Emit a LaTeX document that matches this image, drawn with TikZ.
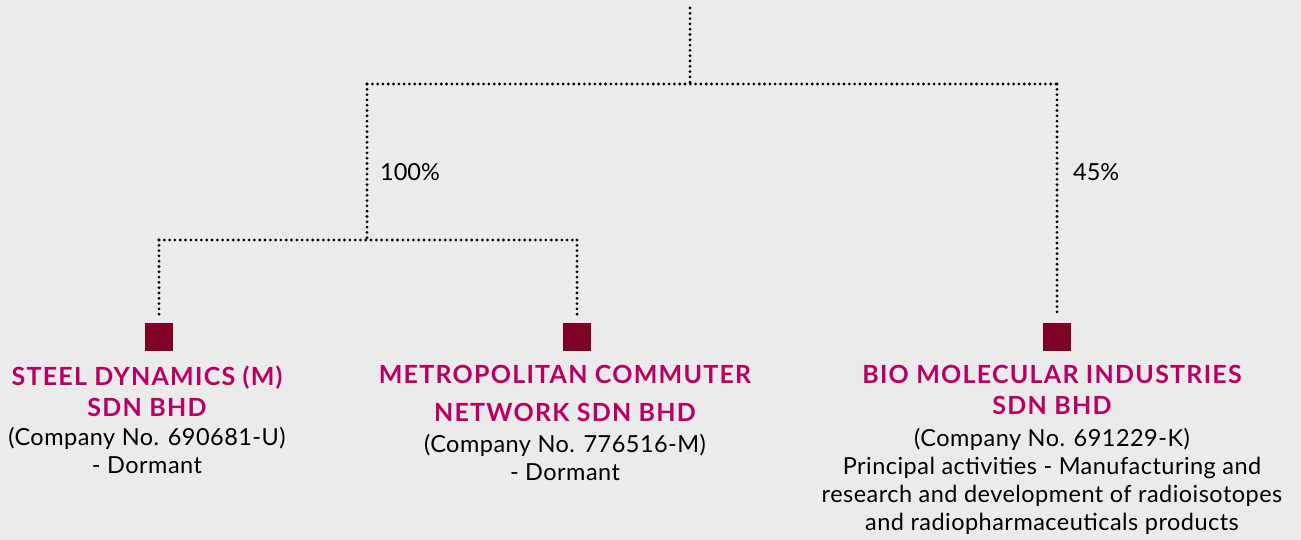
\documentclass[tikz,border=0pt]{standalone}
\usepackage{fontspec}
\setmainfont{Lato}
\newfontfamily\namefont{Lato}[LetterSpace=5]
\newfontfamily\infofont{Lato}[LetterSpace=2]
\usetikzlibrary{positioning}
\definecolor{pagegray}{HTML}{EBEBEB}
\definecolor{unitred}{HTML}{7F0023}
\definecolor{namepink}{HTML}{B80062}

\begin{document}
\begin{tikzpicture}[x=1pt, y=-1pt,
    holding/.style={line width=3.1pt, line cap=round, dash pattern=on 0pt off 5.3pt},
    unitbox/.style={rectangle, fill=unitred, minimum size=28pt, inner sep=0pt},
    coname/.style={font=\namefont\fontsize{25}{31}\selectfont\bfseries, text=namepink, align=center, inner sep=0pt},
    cotext/.style={font=\infofont\fontsize{23.5}{28}\selectfont, align=center, inner sep=0pt},
    pct/.style={font=\fontsize{23.5}{28}\selectfont, anchor=west, inner sep=0pt}
]
\fill[pagegray] (0,0) rectangle (1301,540);
\useasboundingbox (0,0) rectangle (1301,540);

% junctions of the holding tree
\coordinate (root) at (690,8);
\coordinate (jtop) at (690,84);
\coordinate (jl) at (367,84);
\coordinate (jr) at (1057,84);
\coordinate (jsub) at (367,240);
\coordinate (sl) at (159,240);
\coordinate (sr) at (577,240);

% subsidiaries
\node[unitbox] (steel) at (159,337) {};
\node[unitbox] (metro) at (577,337) {};
\node[unitbox] (bio) at (1057,337) {};

\node[coname, below=14pt of steel, xshift=-12pt] (steel-name) {STEEL DYNAMICS (M)\\SDN BHD};
\node[cotext, below=11pt of steel-name] (steel-info) {(Company No. 690681-U)\\- Dormant};

\node[coname, below=14pt of metro, xshift=-12pt] (metro-name) {METROPOLITAN COMMUTER\\[7pt]NETWORK SDN BHD};
\node[cotext, below=12pt of metro-name] (metro-info) {(Company No. 776516-M)\\- Dormant};

\node[coname, below=14pt of bio, xshift=-5pt] (bio-name) {BIO MOLECULAR INDUSTRIES\\SDN BHD};
\node[cotext, below=13pt of bio-name] (bio-info) {(Company No. 691229-K)\\Principal activities - Manufacturing and\\research and development of radioisotopes\\and radiopharmaceuticals products};

% dotted links
\draw[holding] (root) -- (jtop);
\draw[holding] (jl) -- (jr);
\draw[holding] (jl) -- (jsub);
\draw[holding] (sl) -- (sr);
\draw[holding, shorten >=4pt] (sl) -- (steel);
\draw[holding, shorten >=4pt] (sr) -- (metro);
\draw[holding, shorten >=10pt] (jr) -- (bio);

% shareholdings
\node[pct] (p100) at (380,172) {100\%};
\node[pct] (p45) at (1073,172) {45\%};
\end{tikzpicture}
\end{document}
